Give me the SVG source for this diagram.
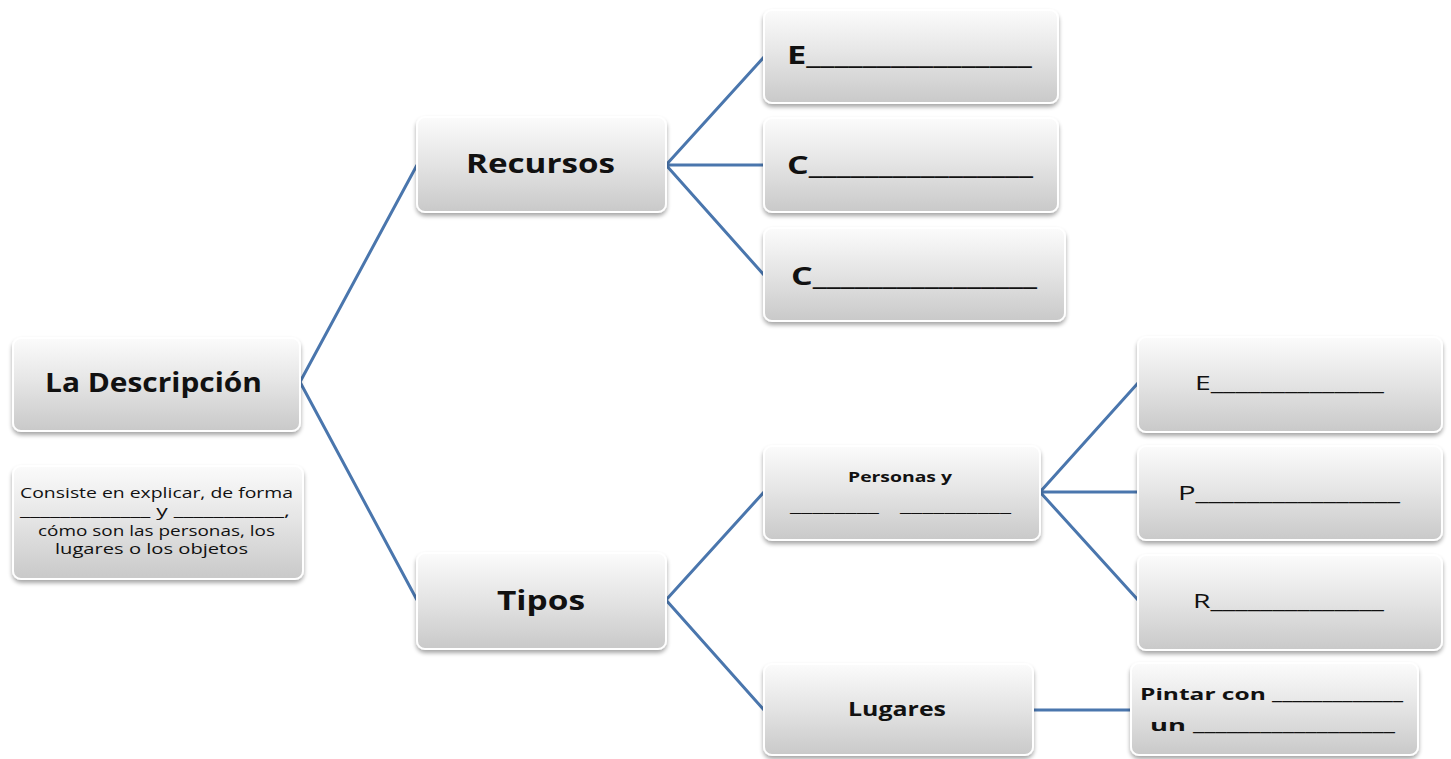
<svg xmlns="http://www.w3.org/2000/svg" width="1451" height="759" viewBox="0 0 1451 759">
<defs>
<linearGradient id="g" x1="0" y1="0" x2="0" y2="1">
<stop offset="0" stop-color="#fbfbfb"/>
<stop offset="0.45" stop-color="#e6e6e6"/>
<stop offset="1" stop-color="#c9c9c9"/>
</linearGradient>
<filter id="sh" x="-10%" y="-10%" width="120%" height="130%">
<feGaussianBlur in="SourceAlpha" stdDeviation="2"/>
<feOffset dx="0" dy="3" result="b"/>
<feComponentTransfer><feFuncA type="linear" slope="0.35"/></feComponentTransfer>
<feMerge><feMergeNode/><feMergeNode in="SourceGraphic"/></feMerge>
</filter>
</defs>
<style>
.box{fill:url(#g);stroke:#ffffff;stroke-width:2;filter:url(#sh)}
.t{font-family:"Open Sans","DejaVu Sans",sans-serif;fill:#111}
.b{font-weight:bold}
.c{stroke:#4a76ad;stroke-width:3;fill:none}
</style>
<g id="connectors">
<path class="c" d="M300 382 L417 165 M300 382 L417 600"/>
<path class="c" d="M666 165 L764 57 M666 165 L764 165 M666 165 L764 275"/>
<path class="c" d="M666 600 L764 492 M666 600 L764 710"/>
<path class="c" d="M1040 492 L1138 383 M1040 492 L1138 492 M1040 492 L1138 600"/>
<path class="c" d="M1033 710 L1131 710"/>
</g>
<g id="n-descripcion">
<rect class="box" x="13" y="338" width="287" height="93" rx="8"/>
<text class="t b" x="45" y="392" font-size="26" textLength="217" lengthAdjust="spacingAndGlyphs">La Descripción</text>
</g>
<g id="n-consiste">
<rect class="box" x="13" y="466" width="290" height="113" rx="8"/>
<text class="t" font-size="15">
<tspan x="20" y="498" textLength="273" lengthAdjust="spacingAndGlyphs">Consiste  en explicar, de forma</tspan>
<tspan x="20" y="516" textLength="270" lengthAdjust="spacingAndGlyphs">_____________ y ___________,</tspan>
<tspan x="38" y="536" textLength="237" lengthAdjust="spacingAndGlyphs">cómo son las personas, los</tspan>
<tspan x="55" y="554" textLength="193" lengthAdjust="spacingAndGlyphs">lugares o los objetos</tspan>
</text>
</g>
<g id="n-recursos">
<rect class="box" x="417" y="117" width="249" height="95" rx="8"/>
<text class="t b" x="466" y="173" font-size="26" textLength="149" lengthAdjust="spacingAndGlyphs">Recursos</text>
</g>
<g id="n-tipos">
<rect class="box" x="417" y="553" width="249" height="96" rx="8"/>
<text class="t b" x="497" y="610" font-size="26" textLength="88" lengthAdjust="spacingAndGlyphs">Tipos</text>
</g>
<g id="n-e1">
<rect class="box" x="764" y="10" width="294" height="93" rx="8"/>
<text class="t b" x="787" y="64" font-size="25" textLength="245" lengthAdjust="spacingAndGlyphs">E________________</text>
</g>
<g id="n-c1">
<rect class="box" x="764" y="118" width="294" height="94" rx="8"/>
<text class="t b" x="787" y="174" font-size="25" textLength="246" lengthAdjust="spacingAndGlyphs">C________________</text>
</g>
<g id="n-c2">
<rect class="box" x="764" y="228" width="301" height="93" rx="8"/>
<text class="t b" x="791" y="285" font-size="25" textLength="246" lengthAdjust="spacingAndGlyphs">C________________</text>
</g>
<g id="n-personas">
<rect class="box" x="764" y="446" width="276" height="94" rx="8"/>
<text class="t b" x="848" y="482" font-size="15" textLength="104" lengthAdjust="spacingAndGlyphs">Personas y</text>
<text class="t" x="790" y="512" font-size="15" textLength="89" lengthAdjust="spacingAndGlyphs">________</text>
<text class="t" x="900" y="512" font-size="15" textLength="111" lengthAdjust="spacingAndGlyphs">__________</text>
</g>
<g id="n-lugares">
<rect class="box" x="764" y="664" width="269" height="91" rx="8"/>
<text class="t b" x="848" y="716" font-size="20" textLength="98" lengthAdjust="spacingAndGlyphs">Lugares</text>
</g>
<g id="n-e2">
<rect class="box" x="1138" y="337" width="304" height="95" rx="8"/>
<text class="t" x="1195" y="390" font-size="20" textLength="189" lengthAdjust="spacingAndGlyphs">E______________</text>
</g>
<g id="n-p">
<rect class="box" x="1138" y="446" width="304" height="94" rx="8"/>
<text class="t" x="1178" y="500" font-size="20" textLength="222" lengthAdjust="spacingAndGlyphs">P________________</text>
</g>
<g id="n-r">
<rect class="box" x="1138" y="555" width="304" height="95" rx="8"/>
<text class="t" x="1193" y="608" font-size="20" textLength="191" lengthAdjust="spacingAndGlyphs">R______________</text>
</g>
<g id="n-pintar">
<rect class="box" x="1131" y="663" width="287" height="92" rx="8"/>
<text class="t b" x="1140" y="700" font-size="16" textLength="263" lengthAdjust="spacingAndGlyphs">Pintar con _____________</text>
<text class="t b" x="1150" y="731" font-size="16" textLength="245" lengthAdjust="spacingAndGlyphs">un __________________</text>
</g>
</svg>
